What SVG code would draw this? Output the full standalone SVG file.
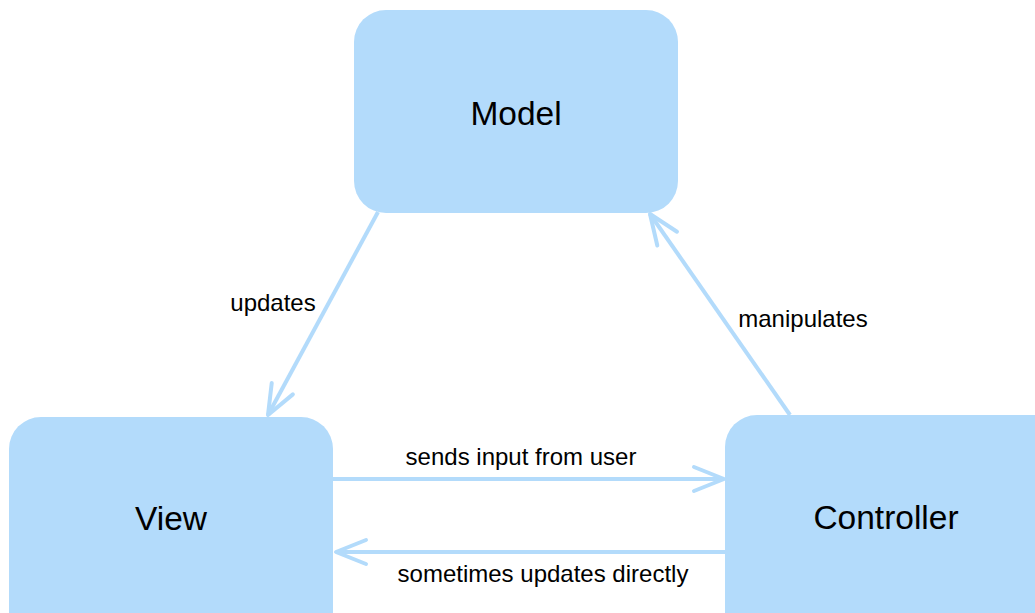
<svg xmlns="http://www.w3.org/2000/svg" width="1035" height="613" viewBox="0 0 1035 613">
<style>
.node{fill:#b3dbfb;}
.nt{font-family:"Liberation Sans",Arial,sans-serif;font-size:33.5px;fill:#000;text-anchor:middle;}
.lt{font-family:"Liberation Sans",Arial,sans-serif;font-size:24px;fill:#000;text-anchor:middle;}
.edge{stroke:#b3dbfb;stroke-width:4;fill:none;}
</style>
<defs>
<marker id="arr" markerUnits="userSpaceOnUse" markerWidth="40" markerHeight="40" viewBox="-36 -20 40 40" refX="0" refY="0" orient="auto" overflow="visible">
<path d="M -30 -12 L 0 0 L -30 12" fill="none" stroke="#b3dbfb" stroke-width="4" stroke-linecap="round" stroke-linejoin="round"/>
</marker>
</defs>
<rect width="1035" height="613" fill="#fff"/>
<g id="connectors">
<line class="edge" x1="378" y1="212" x2="268" y2="415" marker-end="url(#arr)"/>
<line class="edge" x1="790" y1="415" x2="650" y2="214" marker-end="url(#arr)"/>
<line class="edge" x1="333" y1="479" x2="724" y2="479" marker-end="url(#arr)"/>
<line class="edge" x1="725" y1="552" x2="336" y2="552" marker-end="url(#arr)"/>
<text class="lt" x="273" y="311">updates</text>
<text class="lt" x="803" y="327">manipulates</text>
<text class="lt" x="521" y="465">sends input from user</text>
<text class="lt" x="543" y="582">sometimes updates directly</text>
</g>
<g id="model">
<rect class="node" x="354" y="10" width="324" height="203" rx="32"/>
<text class="nt" x="516" y="125">Model</text>
</g>
<g id="view">
<rect class="node" x="9" y="417" width="324" height="240" rx="32"/>
<text class="nt" x="171" y="530">View</text>
</g>
<g id="controller">
<rect class="node" x="725" y="415" width="340" height="240" rx="32"/>
<text class="nt" x="886" y="529">Controller</text>
</g>
</svg>
